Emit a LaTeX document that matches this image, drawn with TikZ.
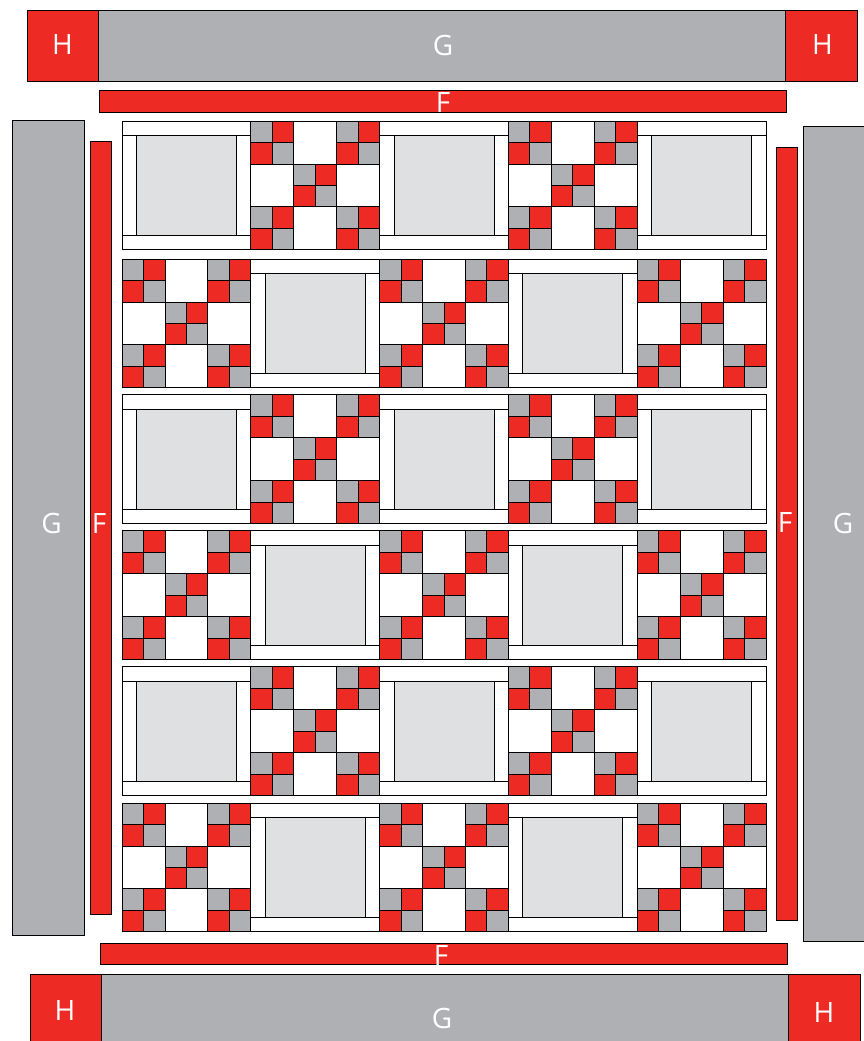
\documentclass[tikz,border=0pt]{standalone}
\usepackage{fontspec}
\setmainfont{Open Sans}
\definecolor{patchred}{HTML}{EE2A24}
\definecolor{patchgrey}{HTML}{AFB0B4}
\definecolor{patchlight}{HTML}{DFE0E2}

\begin{document}
\begin{tikzpicture}[
    x=1pt, y=-1pt,
    line width=0.8pt,
    redpatch/.style={draw=black, fill=patchred},
    greypatch/.style={draw=black, fill=patchgrey},
    lightpatch/.style={draw=black, fill=patchlight},
    whitepatch/.style={draw=black, fill=white},
    labeltext/.style={text=white, font=\fontsize{28}{28}\selectfont, inner sep=0pt},
    fourpatch/.pic={
        \draw [greypatch] (0,0) rectangle (21.45,21.45);
        \draw [redpatch] (21.45,0) rectangle (42.9,21.45);
        \draw [redpatch] (0,21.45) rectangle (21.45,42.9);
        \draw [greypatch] (21.45,21.45) rectangle (42.9,42.9);
    },
    nineblock/.pic={
        \draw [whitepatch] (0,0) rectangle (128.7,128.7);
        \draw (0,42.9) -- (128.7,42.9) (0,85.8) -- (128.7,85.8);
        \draw (42.9,0) -- (42.9,128.7) (85.8,0) -- (85.8,128.7);
        \foreach \px/\py in {0/0, 85.8/0, 42.9/42.9, 0/85.8, 85.8/85.8}
            \pic at (\px,\py) {fourpatch};
    },
    frameblock/.pic={
        \draw [whitepatch] (0,0) rectangle (128.7,128.7);
        \draw (0,14.3) -- (128.7,14.3) (0,114.4) -- (128.7,114.4);
        \draw [lightpatch] (14.3,14.3) rectangle (114.4,114.4);
    }
]
\useasboundingbox (0,0) rectangle (864,1041);

% top border
\draw [greypatch] (98.5,10) rectangle (785.5,81);
\draw [redpatch] (27,10) rectangle (98.5,81);
\draw [redpatch] (785.5,10) rectangle (857,81);
\draw [redpatch] (99,90.5) rectangle (786.5,112);

% left border
\draw [greypatch] (12.5,120) rectangle (84,935.5);
\draw [redpatch] (90,141) rectangle (111.5,914.5);

% right border
\draw [redpatch] (776.3,147.5) rectangle (797.7,920.3);
\draw [greypatch] (803.7,126) rectangle (870,941.7);

% bottom border
\draw [redpatch] (100.3,943) rectangle (787.7,964.7);
\draw [greypatch] (101.5,974) rectangle (788.5,1050);
\draw [redpatch] (30,974) rectangle (101.5,1050);
\draw [redpatch] (788.5,974) rectangle (860,1050);

% quilt blocks
\foreach \ypos [count=\r] in {121,259,394.7,530.7,666.7,803}
    \foreach \xpos [count=\c] in {122,250.8,379.6,508.4,637.2} {
        \pgfmathparse{int(mod(\r+\c,2))}
        \ifnum\pgfmathresult=0
            \pic at (\xpos,\ypos) {frameblock};
        \else
            \pic at (\xpos,\ypos) {nineblock};
        \fi
    }

% labels
\node (htopleft) [labeltext] at (62.5,45) {H};
\node (gtop) [labeltext] at (443,45) {G};
\node (htopright) [labeltext] at (822.5,45) {H};
\node (ftop) [labeltext] at (443,102.5) {F};
\node (gleft) [labeltext] at (51.5,523) {G};
\node (fleft) [labeltext] at (99,523) {F};
\node (fright) [labeltext] at (785,522.5) {F};
\node (gright) [labeltext] at (843,523) {G};
\node (fbottom) [labeltext] at (441,955.5) {F};
\node (hbottomleft) [labeltext] at (65,1010) {H};
\node (gbottom) [labeltext] at (442,1018) {G};
\node (hbottomright) [labeltext] at (824,1012) {H};
\end{tikzpicture}
\end{document}
